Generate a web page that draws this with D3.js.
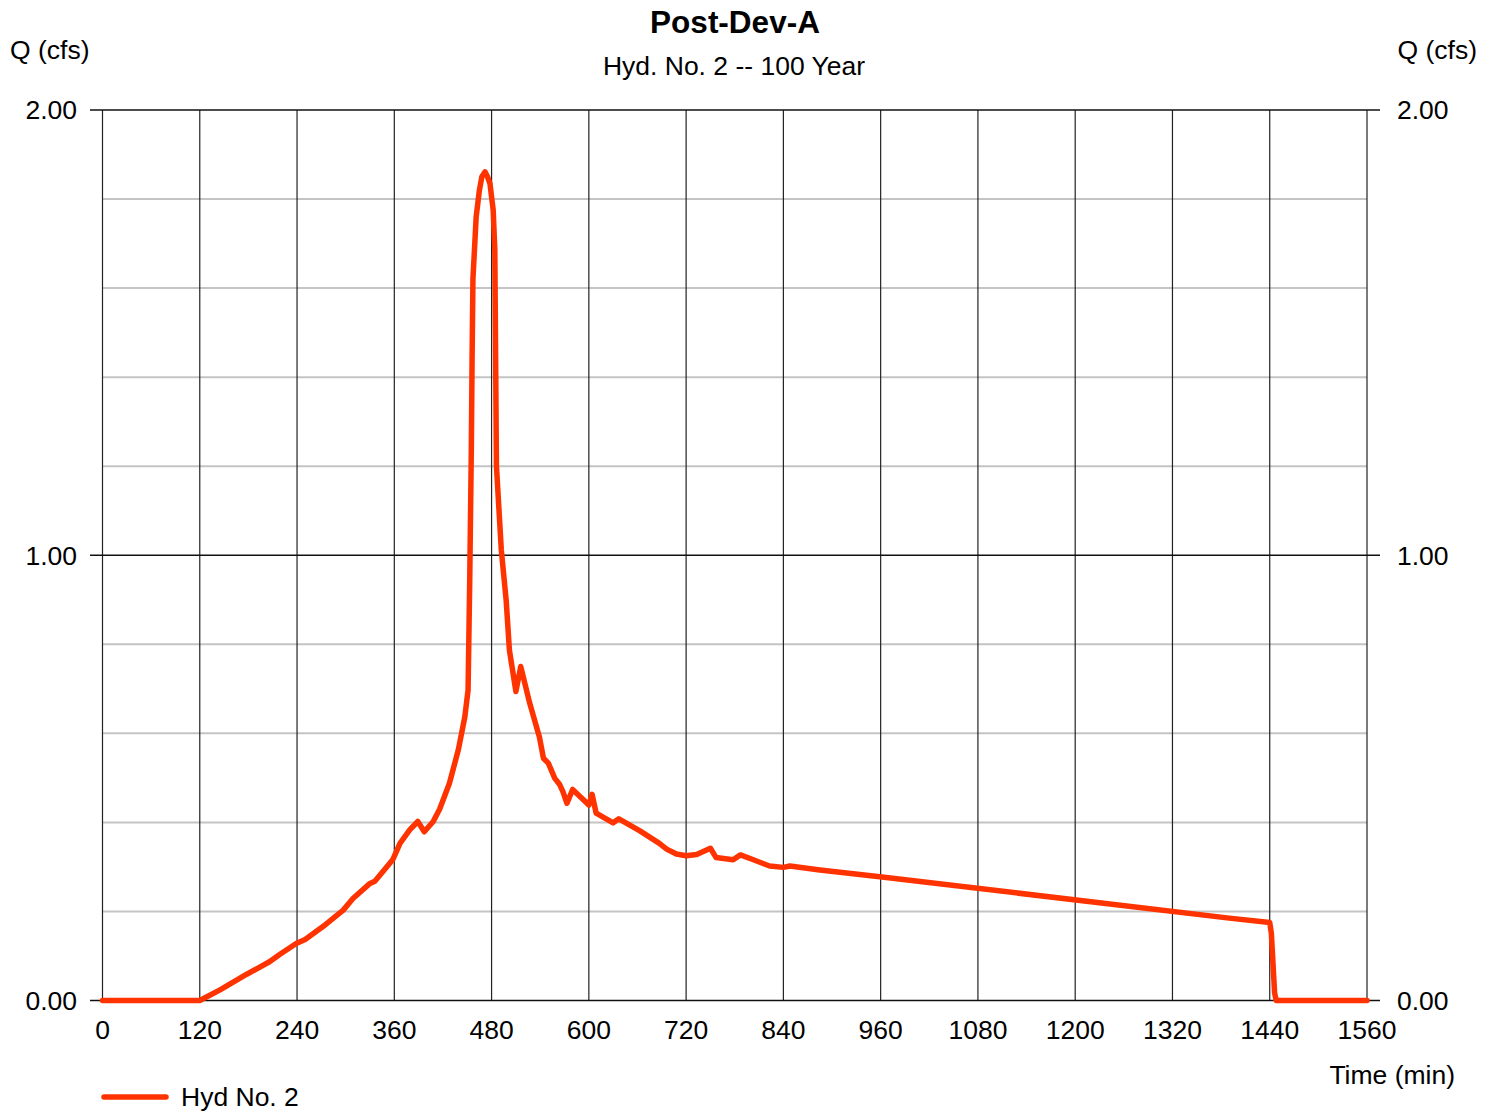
<!DOCTYPE html>
<html><head><meta charset="utf-8">
<script src="https://cdn.jsdelivr.net/npm/d3@7"></script>
<style>body{margin:0;background:#fff}svg{display:block}text{font-family:"Liberation Sans",Arial,sans-serif;fill:#000}</style>
</head><body>
<script>
const title = "Post-Dev-A";
const subtitle = "Hyd. No. 2 -- 100 Year";
const yAxisLabel = "Q (cfs)";
const xAxisLabel = "Time (min)";
const seriesName = "Hyd No. 2";
const xTicks = [0,120,240,360,480,600,720,840,960,1080,1200,1320,1440,1560];
const yTicks = [0,1,2];
const yMinor = [0.2,0.4,0.6,0.8,1.2,1.4,1.6,1.8];
const times = [0,120,145,178,206,219,239,250,272,297,309,330,336,358,367,379,389,397,408,416,428,439,447,451,453,454,455,456,457,461,465,468,472,475,478,482,484,486,492,498,502,510,516,527,539,544,550,558,564,568,573,580,600,604,609,630,637,663,687,696,708,720,733,750,757,778,787,803,823,840,848,885,959,1390,1440,1442,1446,1448,1560];
const flows = [0,0,0.024,0.059,0.087,0.104,0.128,0.137,0.166,0.203,0.229,0.263,0.268,0.316,0.353,0.383,0.402,0.379,0.402,0.430,0.488,0.563,0.637,0.697,0.937,1.087,1.236,1.45,1.62,1.76,1.82,1.85,1.861,1.85,1.835,1.775,1.686,1.20,1.012,0.899,0.787,0.694,0.750,0.668,0.592,0.544,0.533,0.499,0.485,0.469,0.443,0.474,0.439,0.463,0.421,0.399,0.408,0.381,0.353,0.340,0.329,0.325,0.328,0.342,0.321,0.316,0.327,0.316,0.302,0.299,0.302,0.293,0.278,0.185,0.175,0.151,0.017,0,0];

const W=1494,H=1112, FS=26.5;
const svg=d3.select("body").append("svg").attr("width",W).attr("height",H);
const x=d3.scaleLinear().domain([0,1560]).range([102.5,1367]);
const y=d3.scaleLinear().domain([0,2]).range([1000.5,110]);

svg.append("g").selectAll("line").data(yMinor).join("line")
  .attr("x1",x(0)).attr("x2",x(1560)).attr("y1",d=>y(d)).attr("y2",d=>y(d))
  .attr("stroke","#c4c4c4").attr("stroke-width",2);
svg.append("g").selectAll("line").data(xTicks).join("line")
  .attr("x1",d=>x(d)).attr("x2",d=>x(d)).attr("y1",y(2)).attr("y2",y(0))
  .attr("stroke","#222").attr("stroke-width",1.2);
svg.append("g").selectAll("line").data(yTicks).join("line")
  .attr("x1",90).attr("x2",1380).attr("y1",d=>y(d)).attr("y2",d=>y(d))
  .attr("stroke","#111").attr("stroke-width",1.3);

svg.append("g").selectAll("text").data(yTicks).join("text")
  .attr("x",77).attr("y",d=>y(d)).attr("dy","0.35em").attr("text-anchor","end")
  .attr("font-size",FS).text(d=>d.toFixed(2));
svg.append("g").selectAll("text").data(yTicks).join("text")
  .attr("x",1397).attr("y",d=>y(d)).attr("dy","0.35em").attr("text-anchor","start")
  .attr("font-size",FS).text(d=>d.toFixed(2));
svg.append("g").selectAll("text").data(xTicks).join("text")
  .attr("x",d=>x(d)).attr("y",1039).attr("text-anchor","middle")
  .attr("font-size",FS).text(d=>d);

const line=d3.line().x((d,i)=>x(times[i])).y(d=>y(d));
svg.append("path").datum(flows).attr("d",line).attr("fill","none")
  .attr("stroke","#ff3300").attr("stroke-width",5.5).attr("stroke-linejoin","round").attr("stroke-linecap","round");

svg.append("text").attr("x",735).attr("y",33).attr("text-anchor","middle").attr("font-size",31.5).attr("font-weight","bold").text(title);
svg.append("text").attr("x",734).attr("y",75).attr("text-anchor","middle").attr("font-size",FS).text(subtitle);
svg.append("text").attr("x",10).attr("y",59).attr("font-size",FS).text(yAxisLabel);
svg.append("text").attr("x",1477).attr("y",59).attr("text-anchor","end").attr("font-size",FS).text(yAxisLabel);
svg.append("text").attr("x",1455).attr("y",1084).attr("text-anchor","end").attr("font-size",FS).text(xAxisLabel);

svg.append("line").attr("x1",104).attr("x2",166).attr("y1",1097).attr("y2",1097).attr("stroke","#ff3300").attr("stroke-width",5.5).attr("stroke-linecap","round");
svg.append("text").attr("x",181).attr("y",1106).attr("font-size",FS).text(seriesName);
</script>
</body></html>
